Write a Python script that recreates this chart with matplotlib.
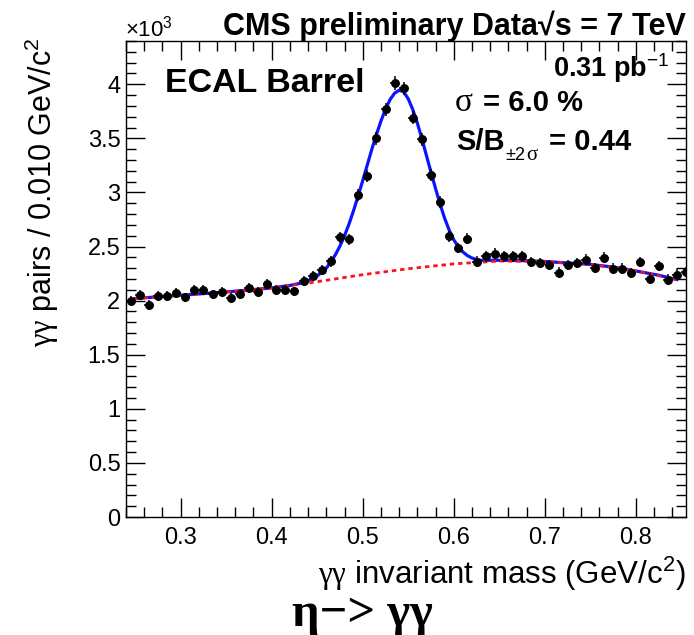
import numpy as np
import matplotlib
matplotlib.use("Agg")
import matplotlib.pyplot as plt
from matplotlib.ticker import MultipleLocator, FuncFormatter

# ---------------- data (counts in units of 10^3) ----------------
mass = [0.245, 0.255, 0.265, 0.275, 0.285, 0.295, 0.305, 0.315, 0.325, 0.335,
        0.345, 0.355, 0.365, 0.375, 0.385, 0.395, 0.405, 0.415, 0.425, 0.435,
        0.445, 0.455, 0.465, 0.475, 0.485, 0.495, 0.505, 0.515, 0.525, 0.535,
        0.545, 0.555, 0.565, 0.575, 0.585, 0.595, 0.605, 0.615, 0.625, 0.635,
        0.645, 0.655, 0.665, 0.675, 0.685, 0.695, 0.705, 0.715, 0.725, 0.735,
        0.745, 0.755, 0.765, 0.775, 0.785, 0.795, 0.805, 0.815, 0.825, 0.835,
        0.845, 0.855]
counts = [2.00, 2.055, 1.96, 2.045, 2.045, 2.072, 2.03, 2.10, 2.10, 2.057,
          2.08, 2.027, 2.062, 2.118, 2.077, 2.154, 2.102, 2.102, 2.085, 2.184,
          2.227, 2.284, 2.364, 2.588, 2.567, 2.98, 3.149, 3.502, 3.77, 4.01,
          3.962, 3.692, 3.49, 3.164, 2.911, 2.597, 2.487, 2.573, 2.36, 2.41,
          2.435, 2.41, 2.41, 2.41, 2.357, 2.35, 2.327, 2.259, 2.327, 2.35,
          2.379, 2.302, 2.398, 2.296, 2.296, 2.256, 2.357, 2.204, 2.318, 2.195,
          2.241, 2.265]

# fit curve (signal + background)
fit_mass = [0.250, 0.275, 0.300, 0.325, 0.350, 0.375, 0.400, 0.420, 0.430, 0.440,
            0.450, 0.460, 0.465, 0.470, 0.475, 0.480, 0.485, 0.490, 0.495, 0.500,
            0.505, 0.510, 0.515, 0.520, 0.525, 0.530, 0.535, 0.540, 0.545, 0.550,
            0.555, 0.560, 0.565, 0.570, 0.575, 0.580, 0.585, 0.590, 0.595, 0.600,
            0.605, 0.610, 0.615, 0.620, 0.625, 0.630, 0.650, 0.675, 0.700, 0.725,
            0.750, 0.775, 0.800, 0.825, 0.845]
fit_counts = [2.020, 2.035, 2.050, 2.065, 2.080, 2.098, 2.118, 2.140, 2.158, 2.185,
              2.228, 2.300, 2.360, 2.425, 2.505, 2.600, 2.710, 2.835, 2.970, 3.110,
              3.255, 3.400, 3.535, 3.660, 3.770, 3.858, 3.918, 3.945, 3.930, 3.865,
              3.765, 3.640, 3.495, 3.340, 3.185, 3.035, 2.890, 2.760, 2.650, 2.562,
              2.497, 2.450, 2.416, 2.394, 2.380, 2.372, 2.373, 2.370, 2.362, 2.348,
              2.335, 2.310, 2.274, 2.235, 2.195]

# background-only curve
bkg_mass = [0.250, 0.300, 0.350, 0.400, 0.450, 0.500, 0.550, 0.600, 0.650, 0.700,
            0.750, 0.800, 0.845]
bkg_counts = [2.020, 2.050, 2.080, 2.118, 2.175, 2.240, 2.295, 2.340, 2.366, 2.362,
              2.335, 2.274, 2.195]

x_ticks = [0.3, 0.4, 0.5, 0.6, 0.7, 0.8]
y_ticks = [0, 0.5, 1, 1.5, 2, 2.5, 3, 3.5, 4]

# ---------------- style ----------------
plt.rcParams['font.family'] = ['Liberation Sans', 'DejaVu Sans']
plt.rcParams['mathtext.fontset'] = 'custom'
plt.rcParams['mathtext.rm'] = 'Liberation Sans'
plt.rcParams['mathtext.it'] = 'Liberation Sans:italic'
plt.rcParams['mathtext.bf'] = 'Liberation Sans:bold'
plt.rcParams['mathtext.sf'] = 'Liberation Serif'

W, H = 694, 635
fig = plt.figure(figsize=(W / 100, H / 100), dpi=100)
ax = fig.add_axes([126 / W, 1 - 517 / H, 560 / W, 476 / H])

def fx(px):
    return px / W

def fy(py):
    return 1 - py / H

m = np.array(mass)
c = np.array(counts)
err = np.sqrt(c * 1000.0) / 1000.0

ax.plot(fit_mass, fit_counts, color='#0a14ff', lw=2.3, zorder=2)
ax.plot(bkg_mass, bkg_counts, color='#ff1020', lw=2.0, ls=(0, (1.6, 1.4)), zorder=3)
ax.errorbar(m, c, yerr=err, xerr=0.005, fmt='o', color='black', ms=5.4,
            elinewidth=1.1, capsize=0, zorder=4)

ax.set_xlim(0.24, 0.855)
ax.set_ylim(0, 4.4)

ax.xaxis.set_minor_locator(MultipleLocator(0.02))
ax.yaxis.set_minor_locator(MultipleLocator(0.1))
ax.set_xticks(x_ticks)
ax.set_yticks(y_ticks)
ax.xaxis.set_major_formatter(FuncFormatter(lambda v, p: f"{v:.1f}"))
ax.yaxis.set_major_formatter(FuncFormatter(lambda v, p: f"{v:g}"))

ax.tick_params(which='both', direction='in', top=True, right=True, width=1.0,
               colors='black', labelsize=17)
ax.tick_params(which='major', length=14)
ax.tick_params(which='minor', length=7.5)
ax.tick_params(axis='x', pad=7)
ax.tick_params(axis='y', pad=4)
for s in ax.spines.values():
    s.set_linewidth(1.0)

# axis titles
fig.text(fx(686), fy(584), r"$\mathsf{\gamma\gamma}$ invariant mass (GeV/c$^2$)",
         ha='right', va='baseline', fontsize=22.5)
fig.text(fx(42), fy(37), r"$\mathsf{\gamma\gamma}$ pairs / 0.010 GeV/c$^2$",
         ha='center', va='top', rotation=90, fontsize=22)

# header texts
fig.text(fx(125), fy(36), r"$\times$10$^3$", ha='left', va='baseline', fontsize=16)
fig.text(fx(686), fy(35), "CMS preliminary Data\u221as = 7 TeV", ha='right',
         va='baseline', fontsize=22, fontweight='bold')

# in-plot texts
fig.text(fx(165), fy(92), "ECAL Barrel", ha='left', va='baseline', fontsize=24.5,
         fontweight='bold')
fig.text(fx(670), fy(77), r"0.31 pb$^{-1}$", ha='right', va='baseline',
         fontsize=19.5, fontweight='bold')
fig.text(fx(455), fy(111), "\u03c3", ha='left', va='baseline', fontsize=24,
         family=['Liberation Serif', 'DejaVu Serif'])
fig.text(fx(483), fy(111), "= 6.0 %", ha='left', va='baseline', fontsize=21,
         fontweight='bold')
fig.text(fx(456), fy(150), "S/B", ha='left', va='baseline', fontsize=21,
         fontweight='bold')
fig.text(fx(505), fy(160), "\u00b12", ha='left', va='baseline', fontsize=13)
fig.text(fx(526), fy(160), "\u03c3", ha='left', va='baseline', fontsize=15,
         family=['Liberation Serif', 'DejaVu Serif'])
fig.text(fx(549), fy(150), "= 0.44", ha='left', va='baseline', fontsize=21,
         fontweight='bold')

# caption
fig.text(fx(362), fy(614), "\u03b7\u2212> \u03b3\u03b3", ha='center', va='center',
         fontsize=35, fontweight='bold', family=['Liberation Serif', 'DejaVu Serif'])

fig.savefig("out.png", dpi=100)
